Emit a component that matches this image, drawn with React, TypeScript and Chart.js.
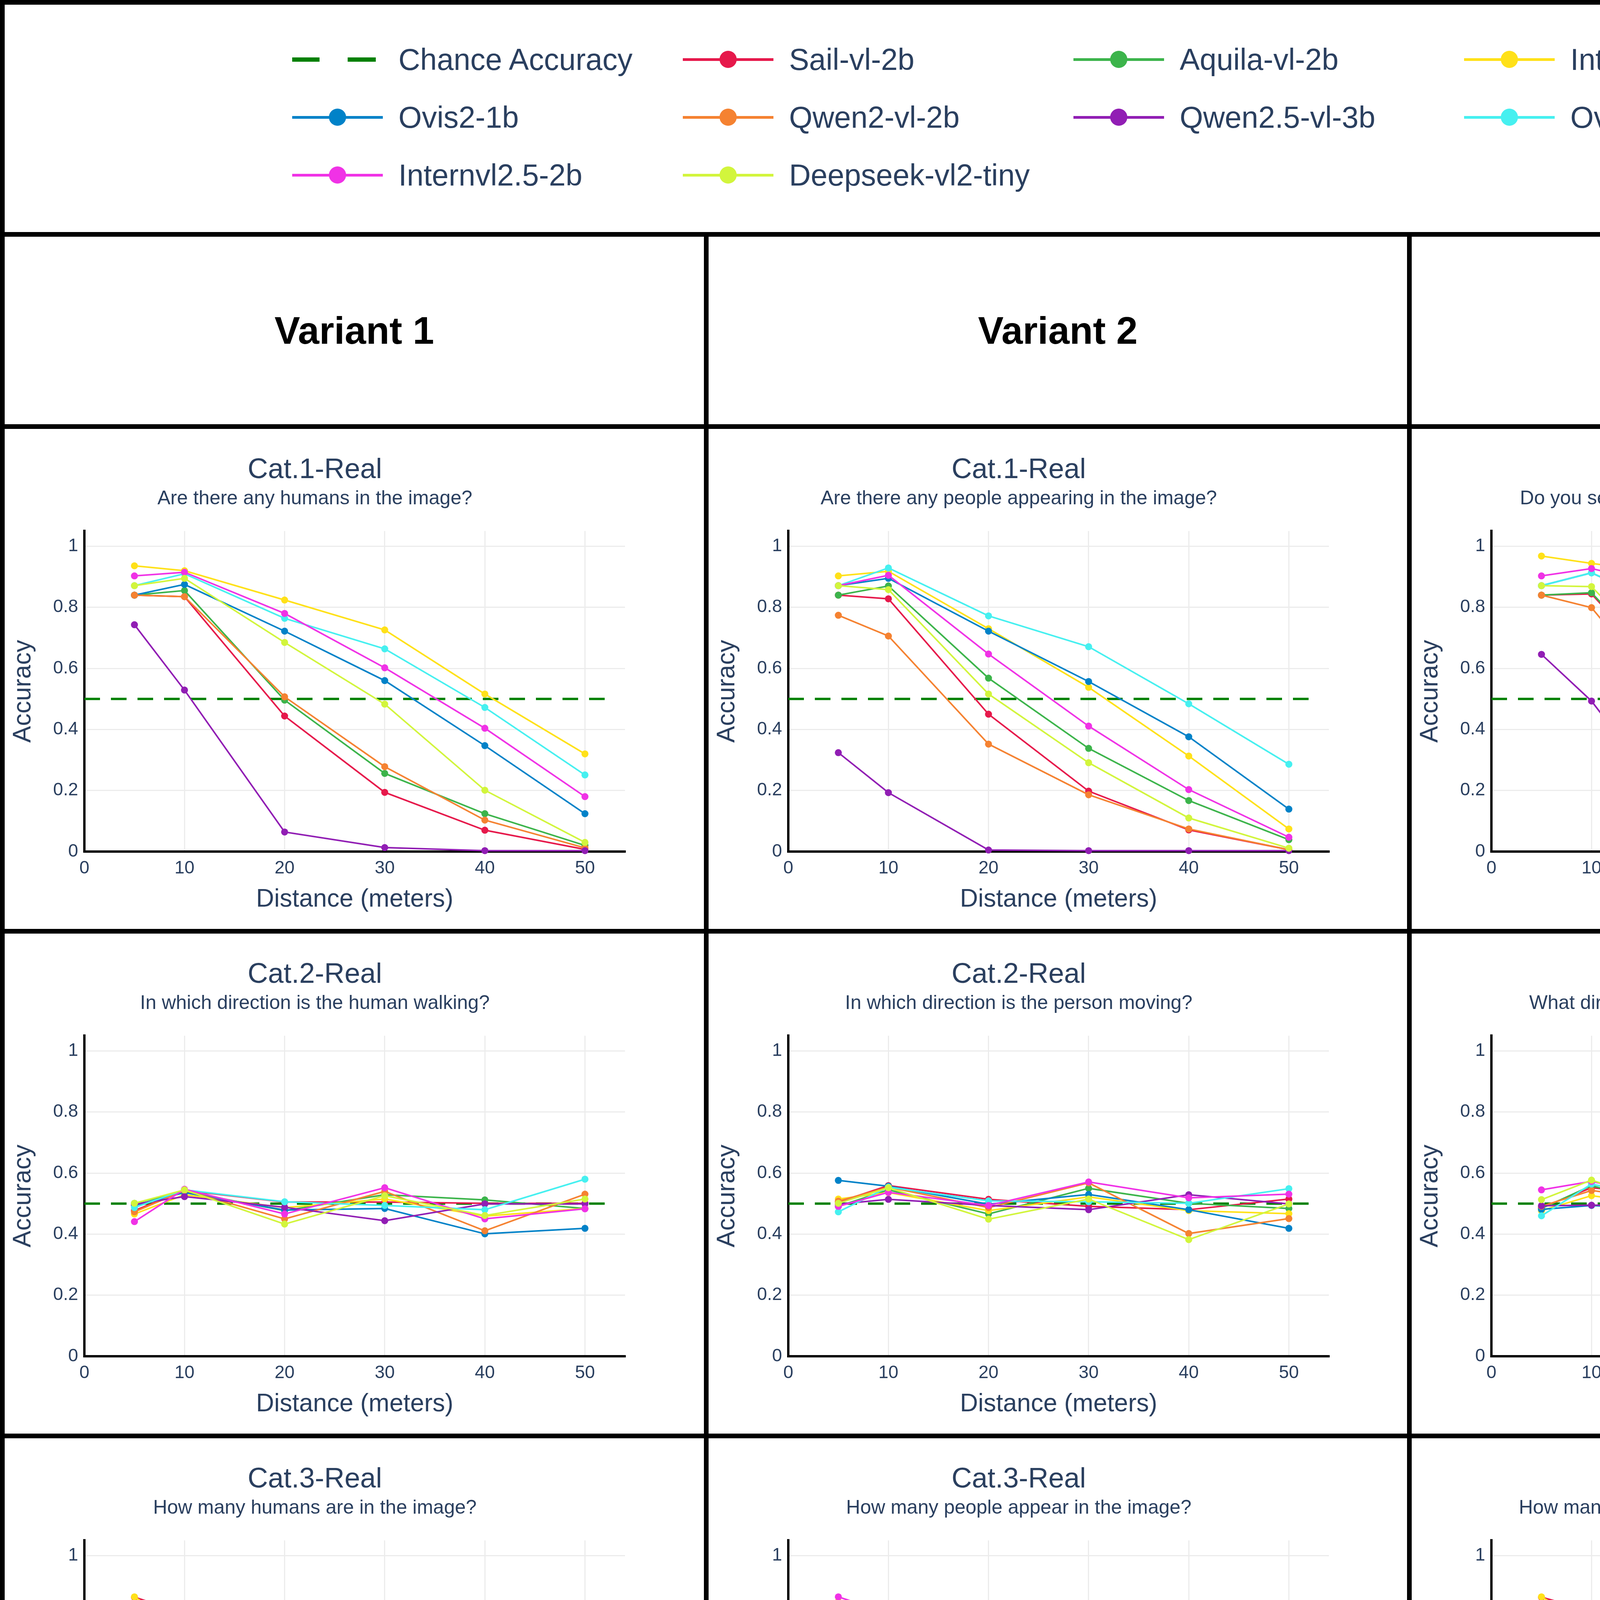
import React, { useEffect, useRef } from "react";
import { Chart, registerables } from "chart.js";

Chart.register(...registerables);

// ---------------- data ----------------
const DISTANCES = [5, 10, 20, 30, 40, 50];
const MODELS = [
  "Sail-vl-2b",
  "Aquila-vl-2b",
  "Internvl2.5-2b-mpo",
  "Ovis2-1b",
  "Qwen2-vl-2b",
  "Qwen2.5-vl-3b",
  "Ovis2-2b",
  "Internvl2.5-2b",
  "Deepseek-vl2-tiny",
];
const COLORS = ["#e6194b", "#3cb44b", "#ffe119", "#0082c8", "#f58231", "#911eb4", "#46f0f0", "#f032e6", "#d2f53c"];
const CHANCE_LABEL = "Chance Accuracy";
const CHANCE_COLOR = "#008000";
const VARIANTS = ["Variant 1", "Variant 2", "Variant 3"];
const CATEGORIES = ["Cat.1-Real", "Cat.2-Real", "Cat.3-Real", "Cat.4-Real"];
const CHANCE = [0.5, 0.5, 0.25, 0.333];
const X_TITLE = "Distance (meters)";
const Y_TITLE = "Accuracy";

const QUESTIONS_V1 = [
  "Are there any humans in the image?",
  "In which direction is the human walking?",
  "How many humans are in the image?",
  "Where is the human located in the image?",
];
const QUESTIONS_V2 = [
  "Are there any people appearing in the image?",
  "In which direction is the person moving?",
  "How many people appear in the image?",
  "Where is the person positioned in the image?",
];
const QUESTIONS_V3 = [
  "Do you see any humans present in the image?",
  "What direction is the person moving toward?",
  "How many people can you count in the image?",
  "What is the person's position in the image?",
];

// model order: Sail, Aquila, Internvl-mpo, Ovis2-1b, Qwen2, Qwen2.5, Ovis2-2b, Internvl2.5-2b, Deepseek
const V1_CAT1 = [
  [0.84, 0.835, 0.444, 0.194, 0.07, 0.007],
  [0.84, 0.855, 0.496, 0.256, 0.124, 0.02],
  [0.936, 0.92, 0.824, 0.726, 0.516, 0.32],
  [0.84, 0.875, 0.722, 0.56, 0.347, 0.124],
  [0.84, 0.835, 0.507, 0.278, 0.103, 0.012],
  [0.743, 0.529, 0.064, 0.013, 0.003, 0.003],
  [0.871, 0.91, 0.764, 0.664, 0.472, 0.251],
  [0.903, 0.915, 0.78, 0.602, 0.404, 0.18],
  [0.871, 0.895, 0.685, 0.483, 0.201, 0.03],
];
const V2_CAT1 = [
  [0.84, 0.828, 0.45, 0.198, 0.071, 0.006],
  [0.84, 0.87, 0.568, 0.338, 0.167, 0.039],
  [0.903, 0.918, 0.73, 0.538, 0.313, 0.074],
  [0.871, 0.895, 0.722, 0.557, 0.376, 0.139],
  [0.774, 0.706, 0.352, 0.186, 0.074, 0.006],
  [0.324, 0.193, 0.005, 0.003, 0.003, 0.003],
  [0.871, 0.929, 0.772, 0.671, 0.484, 0.286],
  [0.871, 0.905, 0.647, 0.411, 0.203, 0.047],
  [0.871, 0.858, 0.516, 0.291, 0.11, 0.011],
];
const V3_CAT1 = [
  [0.84, 0.844, 0.485, 0.249, 0.083, 0.007],
  [0.84, 0.848, 0.498, 0.266, 0.123, 0.021],
  [0.968, 0.944, 0.901, 0.845, 0.762, 0.662],
  [0.871, 0.913, 0.764, 0.641, 0.429, 0.191],
  [0.84, 0.799, 0.403, 0.205, 0.051, 0.006],
  [0.646, 0.493, 0.064, 0.013, 0.003, 0.003],
  [0.871, 0.913, 0.772, 0.688, 0.51, 0.3],
  [0.903, 0.927, 0.852, 0.762, 0.603, 0.432],
  [0.871, 0.868, 0.53, 0.296, 0.117, 0.008],
];
const V1_CAT2 = [
  [0.477, 0.543, 0.505, 0.505, 0.501, 0.501],
  [0.501, 0.54, 0.477, 0.529, 0.512, 0.484],
  [0.466, 0.529, 0.487, 0.515, 0.459, 0.484],
  [0.494, 0.536, 0.479, 0.484, 0.401, 0.419],
  [0.473, 0.543, 0.45, 0.54, 0.411, 0.531],
  [0.498, 0.523, 0.488, 0.444, 0.499, 0.499],
  [0.487, 0.545, 0.506, 0.494, 0.48, 0.58],
  [0.441, 0.547, 0.466, 0.552, 0.45, 0.483],
  [0.501, 0.545, 0.433, 0.526, 0.461, 0.515],
];
const V2_CAT2 = [
  [0.505, 0.559, 0.514, 0.491, 0.48, 0.515],
  [0.491, 0.545, 0.466, 0.55, 0.501, 0.484],
  [0.515, 0.536, 0.477, 0.522, 0.477, 0.467],
  [0.576, 0.557, 0.498, 0.53, 0.48, 0.419],
  [0.508, 0.554, 0.487, 0.568, 0.402, 0.451],
  [0.498, 0.514, 0.494, 0.48, 0.529, 0.499],
  [0.473, 0.554, 0.509, 0.506, 0.501, 0.549],
  [0.491, 0.537, 0.494, 0.571, 0.519, 0.531],
  [0.501, 0.552, 0.449, 0.515, 0.382, 0.499],
];
const V3_CAT2 = [
  [0.487, 0.552, 0.519, 0.508, 0.47, 0.499],
  [0.484, 0.559, 0.47, 0.58, 0.499, 0.467],
  [0.477, 0.526, 0.484, 0.549, 0.46, 0.548],
  [0.481, 0.494, 0.477, 0.48, 0.529, 0.436],
  [0.491, 0.543, 0.498, 0.582, 0.508, 0.531],
  [0.493, 0.495, 0.494, 0.509, 0.509, 0.501],
  [0.46, 0.564, 0.494, 0.568, 0.472, 0.596],
  [0.545, 0.573, 0.502, 0.53, 0.491, 0.403],
  [0.513, 0.577, 0.472, 0.554, 0.373, 0.613],
];
const V1_CAT3 = [
  [0.864, 0.811, 0.503, 0.277, 0.121, 0.051],
  [0.777, 0.762, 0.384, 0.196, 0.081, 0.02],
  [0.865, 0.76, 0.48, 0.28, 0.161, 0.105],
  [0.333, 0.331, 0.291, 0.279, 0.238, 0.191],
  [0.732, 0.587, 0.286, 0.163, 0.095, 0.046],
  [0.777, 0.795, 0.578, 0.427, 0.257, 0.167],
  [0.822, 0.752, 0.475, 0.265, 0.117, 0.032],
  [0.843, 0.709, 0.429, 0.217, 0.137, 0.063],
  [0.71, 0.615, 0.361, 0.28, 0.194, 0.13],
];
const V2_CAT3 = [
  [0.843, 0.809, 0.54, 0.343, 0.175, 0.098],
  [0.799, 0.746, 0.418, 0.259, 0.123, 0.069],
  [0.85, 0.806, 0.536, 0.308, 0.163, 0.051],
  [0.444, 0.508, 0.452, 0.415, 0.331, 0.278],
  [0.732, 0.564, 0.261, 0.132, 0.063, 0.014],
  [0.777, 0.781, 0.543, 0.396, 0.228, 0.109],
  [0.843, 0.772, 0.515, 0.335, 0.203, 0.124],
  [0.865, 0.811, 0.505, 0.266, 0.13, 0.037],
  [0.71, 0.597, 0.345, 0.259, 0.172, 0.112],
];
const V3_CAT3 = [
  [0.864, 0.818, 0.498, 0.293, 0.137, 0.05],
  [0.755, 0.755, 0.395, 0.228, 0.109, 0.032],
  [0.865, 0.77, 0.44, 0.214, 0.091, 0.018],
  [0.533, 0.434, 0.35, 0.321, 0.266, 0.229],
  [0.732, 0.542, 0.24, 0.128, 0.072, 0.007],
  [0.777, 0.799, 0.608, 0.474, 0.335, 0.327],
  [0.843, 0.772, 0.521, 0.357, 0.238, 0.167],
  [0.843, 0.753, 0.436, 0.217, 0.102, 0.02],
  [0.622, 0.533, 0.315, 0.245, 0.165, 0.1],
];
const V1_CAT4 = [
  [0.715, 0.697, 0.536, 0.528, 0.42, 0.389],
  [0.612, 0.582, 0.452, 0.412, 0.333, 0.35],
  [0.64, 0.676, 0.549, 0.554, 0.508, 0.42],
  [0.557, 0.531, 0.429, 0.434, 0.362, 0.317],
  [0.789, 0.585, 0.396, 0.352, 0.35, 0.35],
  [0.755, 0.563, 0.451, 0.465, 0.42, 0.331],
  [0.592, 0.666, 0.513, 0.5, 0.464, 0.396],
  [0.619, 0.694, 0.559, 0.531, 0.494, 0.417],
  [0.566, 0.631, 0.498, 0.475, 0.444, 0.475],
];
const V2_CAT4 = [
  [0.716, 0.678, 0.533, 0.547, 0.445, 0.413],
  [0.708, 0.605, 0.459, 0.461, 0.41, 0.392],
  [0.674, 0.671, 0.527, 0.513, 0.495, 0.5],
  [0.571, 0.552, 0.432, 0.417, 0.373, 0.363],
  [0.809, 0.594, 0.417, 0.366, 0.342, 0.338],
  [0.741, 0.54, 0.431, 0.45, 0.405, 0.342],
  [0.66, 0.685, 0.517, 0.533, 0.494, 0.438],
  [0.633, 0.695, 0.529, 0.506, 0.471, 0.48],
  [0.578, 0.643, 0.499, 0.487, 0.44, 0.422],
];
const V3_CAT4 = [
  [0.722, 0.655, 0.523, 0.512, 0.401, 0.371],
  [0.503, 0.452, 0.352, 0.374, 0.336, 0.355],
  [0.694, 0.631, 0.457, 0.506, 0.464, 0.468],
  [0.585, 0.55, 0.415, 0.389, 0.329, 0.342],
  [0.769, 0.557, 0.378, 0.343, 0.342, 0.342],
  [0.708, 0.534, 0.424, 0.427, 0.405, 0.352],
  [0.64, 0.638, 0.478, 0.496, 0.423, 0.349],
  [0.626, 0.645, 0.494, 0.513, 0.429, 0.434],
  [0.566, 0.634, 0.503, 0.486, 0.457, 0.459],
];

const GRID_VALUES = [
  [V1_CAT1, V2_CAT1, V3_CAT1],
  [V1_CAT2, V2_CAT2, V3_CAT2],
  [V1_CAT3, V2_CAT3, V3_CAT3],
  [V1_CAT4, V2_CAT4, V3_CAT4],
];
const GRID_QUESTIONS = [QUESTIONS_V1, QUESTIONS_V2, QUESTIONS_V3];

// ---------------- styles / layout ----------------
const FONT = "'Liberation Sans', Arial, Helvetica, sans-serif";
const TEXT_COLOR = "#2a3f5f";
const BORDER = 12;
const COL_X = [12, 1814, 3614];
const COL_W = [1790, 1788, 1795];
const ROW_Y = [1098, 2390, 3682, 4974];
const ROW_H = [1280, 1280, 1280, 1282];
const PLOT_LEFT = 204;
const PLOT_W = 1384;

Chart.defaults.font.family = FONT;

type PanelProps = {
  left: number;
  top: number;
  width: number;
  height: number;
  category: string;
  question: string;
  chance: number;
  values: number[][];
};

function Panel({ left, top, width, height, category, question, chance, values }: PanelProps) {
  const ref = useRef<HTMLCanvasElement | null>(null);
  useEffect(() => {
    const canvas = ref.current;
    if (!canvas) return;
    const datasets: any[] = [
      {
        label: CHANCE_LABEL,
        data: [
          { x: 0, y: chance },
          { x: 53, y: chance },
        ],
        borderColor: CHANCE_COLOR,
        backgroundColor: CHANCE_COLOR,
        borderWidth: 6,
        borderDash: [40, 28],
        pointRadius: 0,
        order: 20,
        clip: false,
      },
    ];
    MODELS.forEach((m, i) => {
      datasets.push({
        label: m,
        data: DISTANCES.map((d, j) => ({ x: d, y: values[i][j] })),
        borderColor: COLORS[i],
        backgroundColor: COLORS[i],
        pointBackgroundColor: COLORS[i],
        pointBorderColor: COLORS[i],
        borderWidth: 4,
        pointRadius: 9,
        pointBorderWidth: 0,
        tension: 0,
        order: 10 - i,
        clip: false,
      });
    });
    const chart = new Chart(canvas, {
      type: "line",
      data: { datasets },
      options: {
        animation: false,
        responsive: false,
        devicePixelRatio: 1,
        events: [],
        layout: { padding: { left: 0, top: 0, bottom: 0, right: width - PLOT_LEFT - PLOT_W } },
        plugins: {
          legend: { display: false },
          tooltip: { enabled: false },
          title: {
            display: true,
            text: category,
            color: TEXT_COLOR,
            font: { size: 72, weight: "normal", family: FONT, lineHeight: 1.2 },
            padding: { top: 63, bottom: 0 },
          },
          subtitle: {
            display: true,
            text: question,
            color: TEXT_COLOR,
            font: { size: 50, weight: "normal", family: FONT, lineHeight: 1.2 },
            padding: { top: 0, bottom: 52 },
          },
        },
        scales: {
          x: {
            type: "linear",
            min: 0,
            max: 54,
            ticks: {
              stepSize: 10,
              includeBounds: false,
              color: TEXT_COLOR,
              font: { size: 46, family: FONT },
              padding: 16,
              maxRotation: 0,
            },
            grid: { color: "#ececec", lineWidth: 3, drawTicks: false },
            border: { display: true, color: "#000000", width: 6 },
            title: {
              display: true,
              text: X_TITLE,
              color: TEXT_COLOR,
              font: { size: 64, family: FONT, lineHeight: 1.2 },
              padding: { top: 0, bottom: 36 },
            },
            afterFit: (s: any) => {
              s.height = 198;
            },
          },
          y: {
            type: "linear",
            min: 0,
            max: 1.05,
            ticks: {
              stepSize: 0.2,
              includeBounds: false,
              color: TEXT_COLOR,
              font: { size: 46, family: FONT },
              padding: 16,
              callback: (v: any) => String(Math.round(Number(v) * 10) / 10),
            },
            grid: { color: "#ececec", lineWidth: 3, drawTicks: false },
            border: { display: true, color: "#000000", width: 6 },
            title: {
              display: true,
              text: Y_TITLE,
              color: TEXT_COLOR,
              font: { size: 64, family: FONT, lineHeight: 1.2 },
              padding: { top: 10, bottom: 0 },
            },
            afterFit: (s: any) => {
              s.width = PLOT_LEFT;
            },
          },
        },
      } as any,
    });
    return () => chart.destroy();
  }, [width, height, category, question, chance, values]);
  return (
    <canvas
      ref={ref}
      width={width}
      height={height}
      style={{ position: "absolute", left, top, width, height, display: "block" }}
    />
  );
}

const LEGEND_ROWS_Y = [152, 300, 448];
const LEGEND_COLS_X = [748, 1748, 2748, 3748];

function LegendItem({ x, y, label, color, dashed }: { x: number; y: number; label: string; color: string; dashed: boolean }) {
  return (
    <div style={{ position: "absolute", left: x, top: y - 60, height: 120, width: 1000 }}>
      {dashed ? (
        <>
          <div style={{ position: "absolute", left: 0, top: 55, width: 70, height: 11, background: color }} />
          <div style={{ position: "absolute", left: 142, top: 55, width: 72, height: 11, background: color }} />
        </>
      ) : (
        <>
          <div style={{ position: "absolute", left: 0, top: 57, width: 232, height: 7, background: color }} />
          <div
            style={{
              position: "absolute",
              left: 116 - 22,
              top: 60 - 22,
              width: 44,
              height: 44,
              borderRadius: "50%",
              background: color,
            }}
          />
        </>
      )}
      <div
        style={{
          position: "absolute",
          left: 272,
          top: 0,
          height: 120,
          lineHeight: "120px",
          fontSize: 77,
          fontFamily: FONT,
          color: TEXT_COLOR,
          whiteSpace: "nowrap",
        }}
      >
        {label}
      </div>
    </div>
  );
}

export default function App() {
  useEffect(() => {
    document.body.style.margin = "0";
    document.body.style.background = "#ffffff";
  }, []);

  const legendEntries = [
    { label: CHANCE_LABEL, color: CHANCE_COLOR, dashed: true },
    ...MODELS.map((m, i) => ({ label: m, color: COLORS[i], dashed: false })),
  ];

  const lines: React.ReactNode[] = [];
  lines.push(
    <div
      key="frame"
      style={{
        position: "absolute",
        left: 0,
        top: 0,
        width: 5421,
        height: 6268,
        border: `${BORDER}px solid #000`,
        boxSizing: "border-box",
      }}
    />
  );
  [594, 1086, 2378, 3670, 4962].forEach((y, i) =>
    lines.push(
      <div key={"h" + i} style={{ position: "absolute", left: 0, top: y, width: 5421, height: BORDER, background: "#000" }} />
    )
  );
  [1802, 3602].forEach((x, i) =>
    lines.push(
      <div key={"v" + i} style={{ position: "absolute", left: x, top: 594, width: BORDER, height: 6268 - 594, background: "#000" }} />
    )
  );

  return (
    <div style={{ position: "relative", width: 5421, height: 6271, background: "#fff", overflow: "hidden" }}>
      {legendEntries.map((e, i) => (
        <LegendItem
          key={e.label}
          x={LEGEND_COLS_X[i % 4]}
          y={LEGEND_ROWS_Y[Math.floor(i / 4)]}
          label={e.label}
          color={e.color}
          dashed={e.dashed}
        />
      ))}
      {VARIANTS.map((v, c) => (
        <div
          key={v}
          style={{
            position: "absolute",
            left: COL_X[c],
            top: 606,
            width: COL_W[c],
            height: 480,
            display: "flex",
            alignItems: "center",
            justifyContent: "center",
            fontFamily: FONT,
            fontWeight: "bold",
            fontSize: 98,
            color: "#000",
          }}
        >
          {v}
        </div>
      ))}
      {CATEGORIES.map((cat, r) =>
        VARIANTS.map((v, c) => (
          <Panel
            key={cat + v}
            left={COL_X[c]}
            top={ROW_Y[r]}
            width={COL_W[c]}
            height={ROW_H[r]}
            category={cat}
            question={GRID_QUESTIONS[c][r]}
            chance={CHANCE[r]}
            values={GRID_VALUES[r][c]}
          />
        ))
      )}
      {lines}
    </div>
  );
}
